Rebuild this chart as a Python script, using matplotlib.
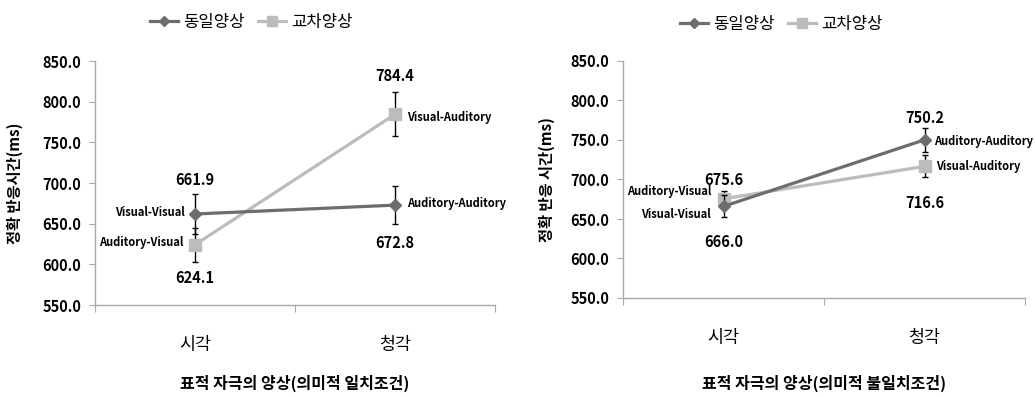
import matplotlib
matplotlib.use("Agg")
import matplotlib.pyplot as plt
from matplotlib.lines import Line2D

plt.rcParams['font.family'] = ['Noto Sans CJK KR', 'DejaVu Sans']

# Categories (target stimulus modality)
categories = ["시각", "청각"]
series_names = ["동일양상", "교차양상"]

# Semantic congruent condition
congruent_same = [661.9, 672.8]
congruent_cross = [624.1, 784.4]
congruent_same_err = [24.0, 23.0]
congruent_cross_err = [21.0, 27.0]
congruent_same_tags = ["Visual-Visual", "Auditory-Auditory"]
congruent_cross_tags = ["Auditory-Visual", "Visual-Auditory"]

# Semantic incongruent condition
incongruent_same = [666.0, 750.2]
incongruent_cross = [675.6, 716.6]
incongruent_same_err = [14.0, 15.0]
incongruent_cross_err = [10.0, 14.0]
incongruent_same_tags = ["Visual-Visual", "Auditory-Auditory"]
incongruent_cross_tags = ["Auditory-Visual", "Visual-Auditory"]

y_ticks = [550.0, 600.0, 650.0, 700.0, 750.0, 800.0, 850.0]

DARK = "#6d6d6d"
LIGHT = "#bcbcbc"
AXIS = "#a8a8a8"

fig = plt.figure(figsize=(10.35, 3.97), dpi=100)
ax1 = fig.add_axes([95 / 1035, 1 - 305 / 397, 400 / 1035, 244 / 397])
ax2 = fig.add_axes([623 / 1035, 1 - 298 / 397, 402 / 1035, 237 / 397])

xpos = [0.5, 1.5]


def draw_panel(ax, same, cross, same_err, cross_err):
    ax.errorbar(xpos, same, yerr=same_err, color=DARK, lw=2.3, marker='D',
                markersize=6.5, ecolor='black', elinewidth=1.0, capsize=2.3,
                capthick=1.0, zorder=3)
    ax.errorbar(xpos, cross, yerr=cross_err, color=LIGHT, lw=2.3, marker='s',
                markersize=8.5, ecolor='black', elinewidth=1.0, capsize=2.3,
                capthick=1.0, zorder=2)
    ax.set_xlim(0, 2)
    ax.set_ylim(550, 850)
    ax.set_yticks(y_ticks)
    ax.set_yticklabels([f"{v:.1f}" for v in y_ticks], fontsize=10.5, weight='bold')
    ax.set_xticks([0, 1, 2])
    ax.set_xticklabels([])
    ax.set_xticks(xpos, minor=True)
    ax.set_xticklabels(categories, minor=True, fontsize=12.5)
    ax.tick_params(axis='x', which='major', length=5, color=AXIS, direction='out')
    ax.tick_params(axis='x', which='minor', length=0, pad=22)
    ax.tick_params(axis='y', length=4, color=AXIS, pad=6)
    for s in ('top', 'right'):
        ax.spines[s].set_visible(False)
    for s in ('left', 'bottom'):
        ax.spines[s].set_color(AXIS)
        ax.spines[s].set_linewidth(1.0)


def label(ax, x, y, text, dx, dy, ha='center', size=10.5, weight='bold'):
    ax.annotate(text, (x, y), xytext=(dx, dy), textcoords='offset pixels',
                ha=ha, va='center', fontsize=size, weight=weight, zorder=5)


draw_panel(ax1, congruent_same, congruent_cross, congruent_same_err, congruent_cross_err)
draw_panel(ax2, incongruent_same, incongruent_cross, incongruent_same_err, incongruent_cross_err)

TAG = 8
# Congruent panel annotations
label(ax1, xpos[0], congruent_same[0], f"{congruent_same[0]:.1f}", 0, 34)
label(ax1, xpos[0], congruent_same[0], congruent_same_tags[0], -10, 1, ha='right', size=TAG)
label(ax1, xpos[0], congruent_cross[0], congruent_cross_tags[0], -12, 2, ha='right', size=TAG)
label(ax1, xpos[0], congruent_cross[0], f"{congruent_cross[0]:.1f}", 0, -33)
label(ax1, xpos[1], congruent_same[1], congruent_same_tags[1], 12, 2, ha='left', size=TAG)
label(ax1, xpos[1], congruent_same[1], f"{congruent_same[1]:.1f}", 0, -38)
label(ax1, xpos[1], congruent_cross[1], f"{congruent_cross[1]:.1f}", 0, 38)
label(ax1, xpos[1], congruent_cross[1], congruent_cross_tags[1], 12, -3, ha='left', size=TAG)

# Incongruent panel annotations
label(ax2, xpos[1], incongruent_same[1], f"{incongruent_same[1]:.1f}", 0, 22)
label(ax2, xpos[1], incongruent_same[1], incongruent_same_tags[1], 10, -2, ha='left', size=TAG)
label(ax2, xpos[1], incongruent_cross[1], incongruent_cross_tags[1], 12, 0, ha='left', size=TAG)
label(ax2, xpos[1], incongruent_cross[1], f"{incongruent_cross[1]:.1f}", 0, -37)
label(ax2, xpos[0], incongruent_cross[0], f"{incongruent_cross[0]:.1f}", 0, 19)
label(ax2, xpos[0], incongruent_cross[0], incongruent_cross_tags[0], -12, 7, ha='right', size=TAG)
label(ax2, xpos[0], incongruent_same[0], incongruent_same_tags[0], -13, -8, ha='right', size=TAG)
label(ax2, xpos[0], incongruent_same[0], f"{incongruent_same[0]:.1f}", 0, -36)

ax1.set_ylabel("정확 반응시간(ms)", fontsize=11, weight='bold', va='center')
ax2.set_ylabel("정확 반응 시간(ms)", fontsize=11, weight='bold', va='center')
ax1.yaxis.set_label_coords(-80 / 400, 0.5)
ax2.yaxis.set_label_coords(-76 / 402, 0.5)

ax1.set_xlabel("표적 자극의 양상(의미적 일치조건)", fontsize=11.5, weight='bold', va='center')
ax2.set_xlabel("표적 자극의 양상(의미적 불일치조건)", fontsize=11.5, weight='bold', va='center')
ax1.xaxis.set_label_coords(0.5, -(383 - 305) / 244)
ax2.xaxis.set_label_coords(0.5, -(383 - 298) / 237)

handles = [
    Line2D([], [], color=DARK, lw=2.3, marker='D', markersize=5),
    Line2D([], [], color=LIGHT, lw=2.3, marker='s', markersize=7),
]
for cx, cy in ((251, 22), (781, 24)):
    fig.legend(handles, series_names, loc='center', ncol=2, frameon=False,
               bbox_to_anchor=(cx / 1035, 1 - cy / 397), fontsize=12,
               handlelength=1.7, handletextpad=0.3, columnspacing=0.8)

fig.savefig("out.png", dpi=100)
